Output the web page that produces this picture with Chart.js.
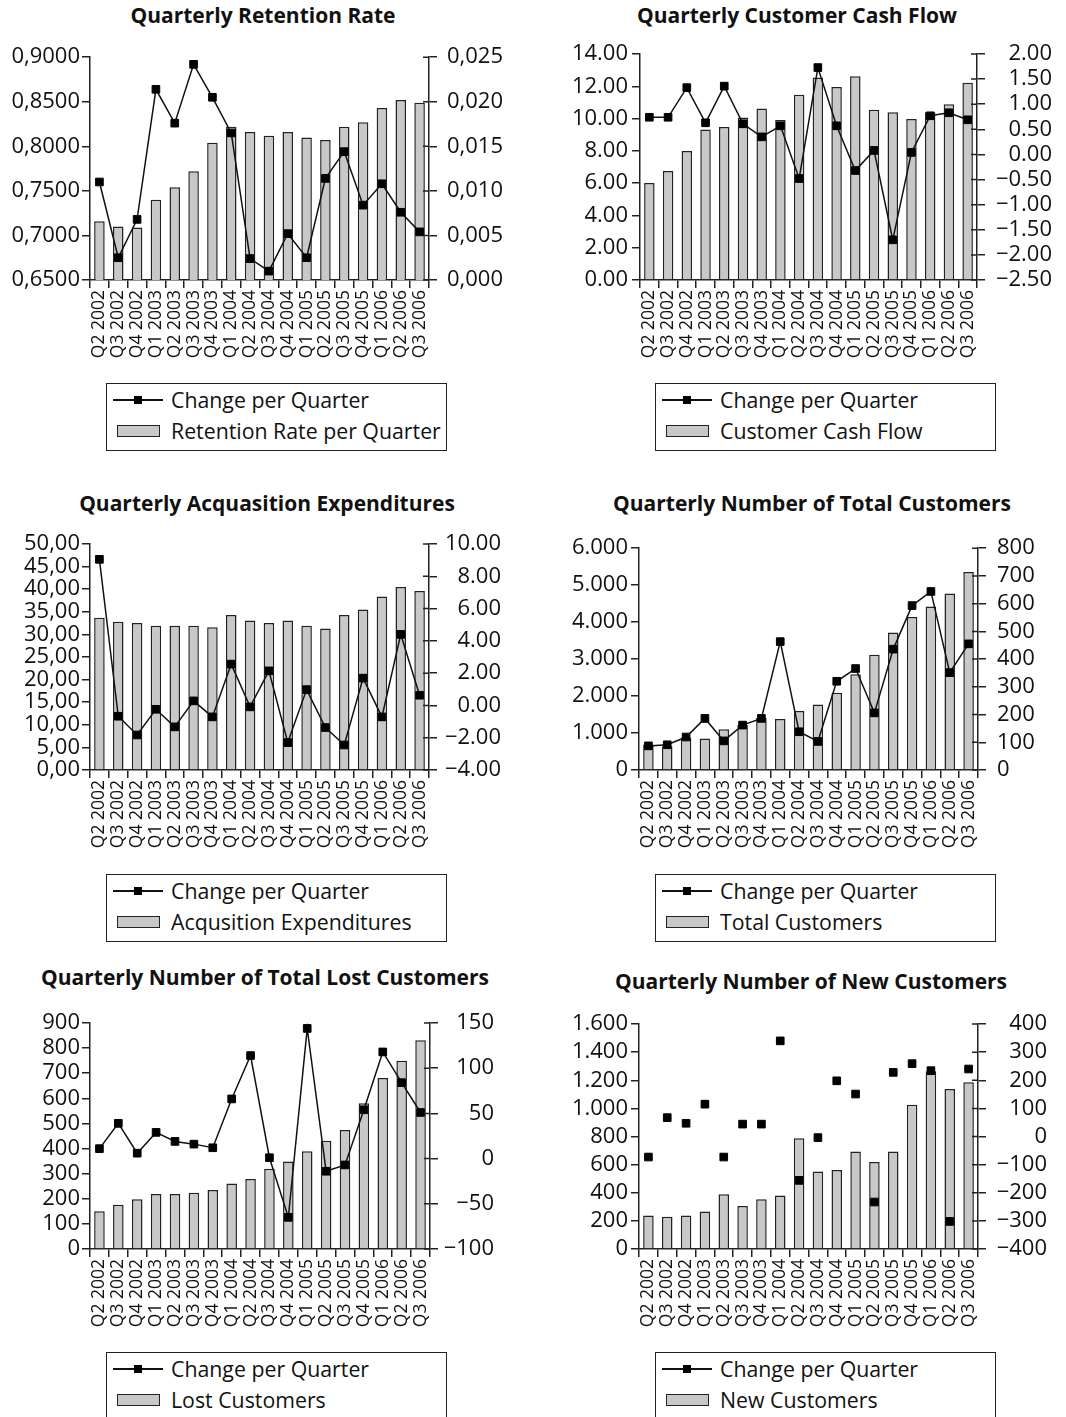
<!DOCTYPE html>
<html>
<head>
<meta charset="utf-8">
<script src="https://cdn.jsdelivr.net/npm/chart.js@4.4.1/dist/chart.umd.min.js"></script>
<style>
  body { margin: 0; background: #fff; width: 1066px; height: 1417px; overflow: hidden; position: relative; font-family: "Open Sans", sans-serif; color: #111; }
  canvas { position: absolute; }
  .title { position: absolute; font-weight: bold; font-size: 21px; line-height: 22px; white-space: nowrap; transform: translateX(-50%); }
  .legend { position: absolute; width: 339px; height: 66px; border: 1.5px solid #222; font-size: 21.3px; }
  .row { position: absolute; left: 0; height: 28px; width: 100%; }
  .row span { position: absolute; left: 64px; top: 0; line-height: 28px; white-space: nowrap; }
  .mk-line { position: absolute; left: 6px; top: 13px; width: 50px; height: 1.5px; background: #111; }
  .mk-line i { position: absolute; left: 21px; top: -3px; width: 8px; height: 8px; background: #000; }
  .mk-bar { position: absolute; left: 10px; top: 8px; width: 41px; height: 10px; background: #c8c8cb; border: 1.5px solid #222; }
</style>
</head>
<body>
<script>
// --- data ---
const quarters = ["Q2 2002","Q3 2002","Q4 2002","Q1 2003","Q2 2003","Q3 2003","Q4 2003","Q1 2004","Q2 2004",
  "Q3 2004","Q4 2004","Q1 2005","Q2 2005","Q3 2005","Q4 2005","Q1 2006","Q2 2006","Q3 2006"];

const retentionRate = [0.716,0.710,0.709,0.740,0.754,0.772,0.804,0.822,0.816,0.812,0.816,0.810,0.807,0.822,0.827,0.843,0.852,0.849];
const retentionChange = [0.0110,0.0025,0.0068,0.0214,0.0176,0.0242,0.0205,0.0165,0.0024,0.0010,0.0052,0.0025,0.0114,0.0144,0.0084,0.0108,0.0076,0.0054];

const cashFlow = [6.01,6.75,7.99,9.33,9.48,10.06,10.63,9.91,11.48,12.55,11.96,12.62,10.55,10.39,9.97,10.39,10.88,12.22];
const cashFlowChange = [0.74,0.74,1.33,0.63,1.36,0.61,0.35,0.57,-0.48,1.73,0.57,-0.32,0.08,-1.70,0.04,0.77,0.83,0.69];

const acqExp = [33.7,32.8,32.5,31.9,31.9,31.9,31.6,34.3,33.1,32.5,33.1,31.9,31.3,34.3,35.5,38.4,40.5,39.6];
const acqExpChange = [9.05,-0.67,-1.83,-0.24,-1.33,0.28,-0.71,2.56,-0.09,2.14,-2.30,0.98,-1.37,-2.45,1.69,-0.71,4.40,0.63];

const totalCust = [690,640,877,851,1099,1214,1409,1383,1595,1773,2092,2588,3120,3722,4139,4422,4777,5353];
const totalCustChange = [87,91,119,186,105,162,186,463,138,103,320,366,206,436,593,644,351,455];

const lostCust = [150,176,198,219,219,224,235,261,279,320,348,389,431,474,580,681,750,831];
const lostCustChange = [11,39,6,29,19,16,12,66,114,1,-65,144,-14,-7,54,118,84,51];

const newCust = [239,230,239,267,390,305,353,381,788,551,561,693,618,693,1025,1264,1138,1186];
const newCustChange = [-73,67,47,115,-73,44,44,340,-156,-4,198,151,-233,228,259,234,-302,240];

// --- number formats like the original (comma / point decimals) ---
const minus = s => s.replace("-", "\u2212");
const dec = (n, sep) => v => minus(Number(v).toFixed(n).replace(".", sep));
const thousands = v => minus(Math.round(v).toString().replace(/\B(?=(\d{3})+(?!\d))/g, "."));
const int = v => minus(Math.round(v).toString());

Chart.defaults.font.family = '"Open Sans", sans-serif';
Chart.defaults.color = "#111";

const TICK_FONT = 22;

// the right axis tick marks cross the axis line in the original
const innerTicks = {
  id: "innerTicks",
  afterDraw(chart) {
    const s = chart.scales.y1, ctx = chart.ctx;
    ctx.save();
    ctx.strokeStyle = "#222";
    ctx.lineWidth = 1.5;
    ctx.beginPath();
    s.ticks.forEach((t, i) => {
      const y = s.getPixelForTick(i);
      ctx.moveTo(s.left - 6, y);
      ctx.lineTo(s.left, y);
    });
    ctx.stroke();
    ctx.restore();
  }
};

function addChart(c) {
  // c.box = [left, top, width, height] of canvas; axes in page coords
  const [L, T, W, H] = c.box;
  const leftW = c.axisL - L;
  const padTop = c.plotTop - T, xH = T + H - c.plotBottom;

  // right axis: either labels start at rightStart (left aligned) or end at rightEnd (right aligned)
  let rightW, padRight, rPad, rAlign;
  if (c.rightEnd) {
    rAlign = "far"; rPad = 4;
    rightW = c.rightEnd - c.axisR;
    padRight = L + W - c.rightEnd;
  } else {
    rAlign = "near"; rPad = c.rightStart - c.axisR - 8;
    rightW = L + W - c.axisR;
    padRight = 0;
  }

  const cv = document.createElement("canvas");
  cv.width = W; cv.height = H;
  cv.style.left = L + "px"; cv.style.top = T + "px";
  document.body.appendChild(cv);

  const t = document.createElement("div");
  t.className = "title";
  t.textContent = c.title;
  t.style.left = c.titleX + "px"; t.style.top = c.titleY + "px";
  document.body.appendChild(t);

  const axisLine = { color: "#222", width: 1.5 };
  const ticksGrid = { drawOnChartArea: false, tickLength: 8, color: "#222", lineWidth: 1.5 };

  const chart = new Chart(cv, {
    data: {
      labels: quarters,
      datasets: [
        {
          type: "line", label: c.lineLabel, data: c.line, yAxisID: "y1", order: 0,
          borderColor: "#111", borderWidth: 1.5, showLine: c.showLine !== false, tension: 0,
          pointStyle: "rect", pointRadius: 5.4, pointBackgroundColor: "#000", pointBorderColor: "#000", pointBorderWidth: 1
        },
        {
          type: "bar", label: c.barLabel, data: c.bars, yAxisID: "y", order: 1,
          backgroundColor: "#c8c8cb", borderColor: "#222", borderWidth: 1.5,
          barPercentage: 0.56, categoryPercentage: 1
        }
      ]
    },
    options: {
      responsive: false, animation: false, devicePixelRatio: 1,
      layout: { padding: { top: padTop, left: 0, right: padRight, bottom: 0 } },
      plugins: { legend: { display: false }, tooltip: { enabled: false } },
      scales: {
        x: {
          grid: { ...ticksGrid, offset: true }, border: axisLine,
          ticks: { autoSkip: false, minRotation: 90, maxRotation: 90, padding: 2, font: { size: 17.5 } },
          afterFit: s => { s.height = xH; }
        },
        y: {
          position: "left", min: c.l[0], max: c.l[1],
          ticks: { stepSize: c.l[2], autoSkip: false, callback: c.fmtL, padding: c.axisL - c.leftEnd - 8, font: { size: TICK_FONT } },
          grid: ticksGrid, border: axisLine,
          afterFit: s => { s.width = leftW; }
        },
        y1: {
          position: "right", min: c.r[0], max: c.r[1],
          ticks: { stepSize: c.r[2], autoSkip: false, callback: c.fmtR, padding: rPad, crossAlign: rAlign, font: { size: TICK_FONT } },
          grid: ticksGrid, border: axisLine,
          afterFit: s => { s.width = rightW; }
        }
      }
    },
    plugins: [innerTicks]
  });

  // legend box in the style of the original
  const lg = document.createElement("div");
  lg.className = "legend";
  lg.style.left = c.legend[0] + "px"; lg.style.top = c.legend[1] + "px";
  const ds = chart.data.datasets;
  lg.innerHTML =
    `<div class="row" style="top:2px"><div class="mk-line"><i></i></div><span>${ds[0].label}</span></div>` +
    `<div class="row" style="top:33px"><div class="mk-bar"></div><span>${ds[1].label}</span></div>`;
  document.body.appendChild(lg);
}

addChart({
  title: "Quarterly Retention Rate", titleX: 263, titleY: 4,
  box: [0, 34, 533, 330], axisL: 90, axisR: 429, plotTop: 54, plotBottom: 280,
  bars: retentionRate, line: retentionChange,
  barLabel: "Retention Rate per Quarter", lineLabel: "Change per Quarter",
  l: [0.65, 0.9, 0.05], r: [0, 0.025, 0.005], fmtL: dec(4, ","), fmtR: dec(3, ","),
  leftEnd: 80, rightStart: 447, legend: [106, 383]
});

addChart({
  title: "Quarterly Customer Cash Flow", titleX: 797, titleY: 4,
  box: [533, 34, 533, 330], axisL: 640, axisR: 977, plotTop: 54, plotBottom: 280,
  bars: cashFlow, line: cashFlowChange,
  barLabel: "Customer Cash Flow", lineLabel: "Change per Quarter",
  l: [0, 14, 2], r: [-2.5, 2, 0.5], fmtL: dec(2, "."), fmtR: dec(2, "."),
  leftEnd: 628, rightEnd: 1052, legend: [655, 383]
});

addChart({
  title: "Quarterly Acquasition Expenditures", titleX: 267, titleY: 492,
  box: [0, 524, 533, 330], axisL: 90, axisR: 429, plotTop: 544, plotBottom: 770,
  bars: acqExp, line: acqExpChange,
  barLabel: "Acqusition Expenditures", lineLabel: "Change per Quarter",
  l: [0, 50, 5], r: [-4, 10, 2], fmtL: dec(2, ","), fmtR: dec(2, "."),
  leftEnd: 80, rightEnd: 501, legend: [106, 874]
});

addChart({
  title: "Quarterly Number of Total Customers", titleX: 812, titleY: 492,
  box: [533, 524, 533, 330], axisL: 639, axisR: 978, plotTop: 544, plotBottom: 770,
  bars: totalCust, line: totalCustChange,
  barLabel: "Total Customers", lineLabel: "Change per Quarter",
  l: [0, 6000, 1000], r: [0, 800, 100], fmtL: thousands, fmtR: int,
  leftEnd: 628, rightStart: 997, legend: [655, 874]
});

addChart({
  title: "Quarterly Number of Total Lost Customers", titleX: 265, titleY: 966,
  box: [0, 1003, 533, 330], axisL: 90, axisR: 430, plotTop: 1023, plotBottom: 1249,
  bars: lostCust, line: lostCustChange,
  barLabel: "Lost Customers", lineLabel: "Change per Quarter",
  l: [0, 900, 100], r: [-100, 150, 50], fmtL: int, fmtR: int,
  leftEnd: 80, rightEnd: 494, legend: [106, 1352]
});

addChart({
  title: "Quarterly Number of New Customers", titleX: 811, titleY: 970,
  box: [533, 1004, 533, 330], axisL: 639, axisR: 978, plotTop: 1024, plotBottom: 1249,
  bars: newCust, line: newCustChange, showLine: false,
  barLabel: "New Customers", lineLabel: "Change per Quarter",
  l: [0, 1600, 200], r: [-400, 400, 100], fmtL: thousands, fmtR: int,
  leftEnd: 628, rightEnd: 1047, legend: [655, 1352]
});
</script>
</body>
</html>
